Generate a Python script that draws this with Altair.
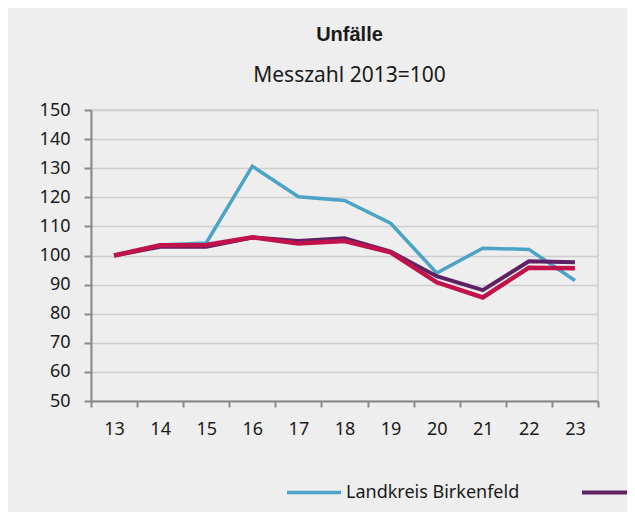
import altair as alt
import pandas as pd

years = ["13", "14", "15", "16", "17", "18", "19", "20", "21", "22", "23"]
series_names = ["Landkreis Birkenfeld", "Rheinland-Pfalz", "Deutschland"]
birkenfeld = [100, 103.6, 104.3, 130.7, 120.2, 118.9, 111.1, 94.0, 102.5, 102.1, 91.4]
rlp = [100, 103.0, 103.0, 106.2, 105.0, 105.9, 101.3, 92.9, 88.1, 98.0, 97.7]
de = [100, 103.5, 103.6, 106.3, 104.1, 105.0, 101.1, 90.8, 85.6, 95.8, 95.6]
colors = ["#4BA3C7", "#5E2163", "#C2124C"]
widths = [3.5, 4.5, 4.5]

rows = []
for name, vals in zip(series_names, [birkenfeld, rlp, de]):
    for i, (yr, v) in enumerate(zip(years, vals)):
        rows.append({"Jahr": yr, "Wert": v, "Reihe": name, "order": i})
df = pd.DataFrame(rows)

FONT = "Noto Sans"

chart = alt.Chart(df).mark_line(strokeCap="butt", strokeJoin="miter").encode(
    x=alt.X("Jahr:O", sort=years, bandPosition=0.5,
            scale=alt.Scale(type="band", paddingInner=0, paddingOuter=0),
            axis=alt.Axis(title=None, labelAngle=0, tickBand="extent", grid=False,
                          domainColor="#8a8a8a", domainWidth=2, tickColor="#8a8a8a",
                          tickWidth=2, tickSize=6, labelPadding=13, labelFont=FONT,
                          labelFontSize=18, labelColor="#1a1a1a")),
    y=alt.Y("Wert:Q", scale=alt.Scale(domain=[50, 150], nice=False, zero=False),
            axis=alt.Axis(title=None, values=list(range(50, 151, 10)), grid=True,
                          gridColor="#cfcfcf", gridWidth=1.5, domainColor="#8a8a8a",
                          domainWidth=2, tickColor="#8a8a8a", tickWidth=2, tickSize=7,
                          labelPadding=14, labelFont=FONT, labelFontSize=18,
                          labelColor="#1a1a1a")),
    color=alt.Color("Reihe:N", sort=series_names,
                    scale=alt.Scale(domain=series_names, range=colors),
                    legend=alt.Legend(title=None, orient="none", direction="horizontal",
                                      legendX=194, legendY=353, symbolType="stroke",
                                      symbolSize=2916, symbolStrokeWidth=4,
                                      labelFont=FONT, labelFontSize=18, labelColor="#1a1a1a",
                                      labelOffset=3, labelLimit=400, columnPadding=54,
                                      padding=0)),
    strokeWidth=alt.StrokeWidth("Reihe:N", sort=series_names,
                                scale=alt.Scale(domain=series_names, range=widths),
                                legend=None),
    order=alt.Order("order:Q"),
).properties(
    width=507,
    height=291,
    autosize=alt.AutoSizeParams(type="none"),
    padding={"left": 83, "top": 102, "right": 29, "bottom": 111},
    title=alt.Title("Unfälle", subtitle="Messzahl 2013=100", anchor="middle", dx=5,
                    font="Liberation Sans", fontSize=20, fontWeight="bold", color="#1a1a1a",
                    subtitleFont=FONT, subtitleFontSize=21, subtitleColor="#1a1a1a",
                    subtitlePadding=20, offset=15),
).configure(
    background="#EDEEED",
).configure_view(
    stroke="#cfcfcf", strokeWidth=1.5,
)

chart.save("out.html", embed_options={"renderer": "svg", "actions": False})
